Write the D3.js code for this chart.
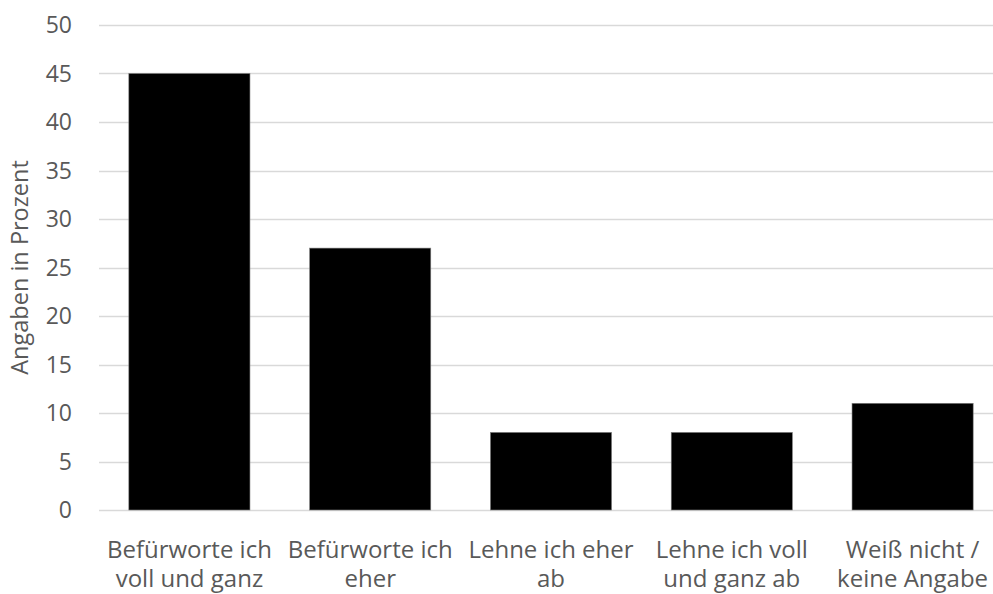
<!DOCTYPE html>
<html>
<head>
<meta charset="utf-8">
<script src="https://cdn.jsdelivr.net/npm/d3@7"></script>
<style>
  html, body { margin: 0; padding: 0; background: #fff; }
  text { font-family: "Open Sans", sans-serif; fill: #595959; }
</style>
</head>
<body>
<div id="chart"></div>
<script>
// chart data
var categories = [
    ["Befürworte ich", "voll und ganz"],
    ["Befürworte ich", "eher"],
    ["Lehne ich eher", "ab"],
    ["Lehne ich voll", "und ganz ab"],
    ["Weiß nicht /", "keine Angabe"]
];
var values = [45, 27, 8, 8, 11];
var yTicks = [0, 5, 10, 15, 20, 25, 30, 35, 40, 45, 50];
var yTitle = "Angaben in Prozent";

var width = 993, height = 594;
var plot = { left: 99, right: 1003, top: 25, bottom: 510 };

var svg = d3.select("#chart").append("svg")
    .attr("width", width)
    .attr("height", height);

var x = d3.scaleBand()
    .domain(d3.range(values.length))
    .range([plot.left, plot.right])
    .paddingInner(0.33)
    .paddingOuter(0.165);

var y = d3.scaleLinear()
    .domain([0, 50])
    .range([plot.bottom, plot.top]);

// gridlines
svg.append("g")
    .selectAll("line")
    .data(yTicks)
    .enter()
    .append("line")
    .attr("x1", plot.left)
    .attr("x2", plot.right)
    .attr("y1", d => Math.round(y(d)) + 0.5)
    .attr("y2", d => Math.round(y(d)) + 0.5)
    .attr("stroke", "#d9d9d9")
    .attr("stroke-width", 1.5);

// y tick labels
svg.append("g")
    .selectAll("text")
    .data(yTicks)
    .enter()
    .append("text")
    .attr("x", 72)
    .attr("y", d => y(d))
    .attr("dy", "0.36em")
    .attr("text-anchor", "end")
    .attr("font-size", 23)
    .text(d => d);

// bars
svg.append("g")
    .selectAll("rect")
    .data(values)
    .enter()
    .append("rect")
    .attr("x", (d, i) => x(i))
    .attr("y", d => y(d))
    .attr("width", x.bandwidth())
    .attr("height", d => y(0) - y(d))
    .attr("fill", "#000")
    .attr("stroke", "#7f7f7f")
    .attr("stroke-width", 0.6);

// x labels, two lines each
var lbl = svg.append("g")
    .selectAll("text")
    .data(categories)
    .enter()
    .append("text")
    .attr("text-anchor", "middle")
    .attr("font-size", 24);
lbl.each(function(d, i) {
    var t = d3.select(this);
    d.forEach(function(line, j) {
        t.append("tspan")
            .attr("x", x(i) + x.bandwidth() / 2)
            .attr("y", 558 + j * 29)
            .text(line);
    });
});

// y title
svg.append("text")
    .attr("transform", "translate(28," + (plot.top + plot.bottom) / 2 + ") rotate(-90)")
    .attr("text-anchor", "middle")
    .attr("font-size", 23.5)
    .text(yTitle);
</script>
</body>
</html>
